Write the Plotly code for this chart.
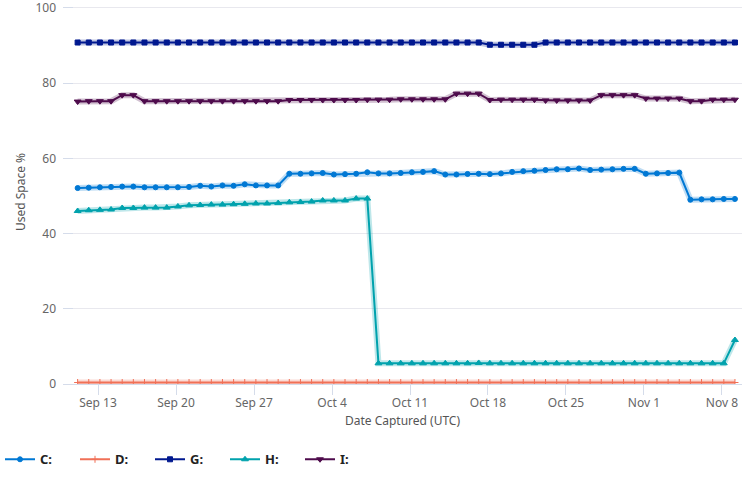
import plotly.graph_objects as go
import pandas as pd

dates = pd.date_range("2023-09-11 04:00", periods=60, freq="D")

C = [52.1, 52.2, 52.3, 52.4, 52.5, 52.5, 52.3, 52.3, 52.3, 52.3,
     52.4, 52.7, 52.5, 52.8, 52.7, 53.1, 52.8, 52.8, 52.8, 55.9,
     55.9, 56.0, 56.1, 55.7, 55.8, 55.9, 56.3, 56.0, 56.0, 56.1,
     56.3, 56.4, 56.6, 55.7, 55.7, 55.85, 55.9, 55.8, 56.0, 56.4,
     56.6, 56.7, 56.9, 57.1, 57.1, 57.3, 56.9, 57.0, 57.1, 57.2,
     57.2, 55.9, 56.0, 56.1, 56.2, 49.0, 49.1, 49.1, 49.2, 49.2]
D = [0.4] * 60
G = [90.8] * 37 + [90.2] * 5 + [90.8] * 18
H = [46.0, 46.2, 46.3, 46.4, 46.8, 46.8, 46.9, 46.9, 46.9, 47.2,
     47.5, 47.6, 47.7, 47.7, 47.8, 47.9, 48.0, 48.0, 48.1, 48.3,
     48.4, 48.5, 48.8, 48.8, 48.8, 49.3, 49.3, 5.5, 5.5, 5.5,
     5.5, 5.5, 5.5, 5.5, 5.5, 5.5, 5.6, 5.5, 5.5, 5.5,
     5.5, 5.5, 5.5, 5.5, 5.5, 5.5, 5.5, 5.5, 5.5, 5.5,
     5.5, 5.5, 5.5, 5.5, 5.5, 5.5, 5.5, 5.5, 5.5, 11.7]
I = [75.1, 75.2, 75.2, 75.2, 76.8, 76.8, 75.2, 75.2, 75.2, 75.2,
     75.2, 75.2, 75.2, 75.2, 75.2, 75.2, 75.2, 75.2, 75.2, 75.5,
     75.5, 75.5, 75.5, 75.5, 75.5, 75.5, 75.6, 75.6, 75.6, 75.7,
     75.7, 75.7, 75.7, 75.7, 77.2, 77.2, 77.2, 75.5, 75.6, 75.6,
     75.6, 75.6, 75.4, 75.4, 75.4, 75.4, 75.4, 76.8, 76.8, 76.8,
     76.8, 75.9, 75.9, 75.9, 75.9, 75.2, 75.2, 75.6, 75.6, 75.6]

y_ticks = [0, 20, 40, 60, 80, 100]

series = [
    ("C:", C, "#0078D4", "circle", 5),
    ("D:", D, "#F07057", "cross-thin", 5),
    ("G:", G, "#00188F", "square", 5),
    ("H:", H, "#00A2AD", "triangle-up", 6),
    ("I:", I, "#4E0B4C", "triangle-down", 6),
]

fig = go.Figure()
for name, vals, col, sym, sz in series:
    fig.add_trace(go.Scatter(
        x=dates, y=vals, mode="lines", line=dict(color=col, width=6),
        opacity=0.25, showlegend=False, hoverinfo="skip"))
for name, vals, col, sym, sz in series:
    fig.add_trace(go.Scatter(
        x=dates, y=vals, name=name, mode="lines+markers",
        line=dict(color=col, width=2),
        marker=dict(symbol=sym, size=sz, color=col, line=dict(color=col, width=1))))

font_family = "Segoe UI, Noto Sans, sans-serif"
fig.update_layout(
    width=751, height=482,
    margin=dict(l=63, r=9, t=0, b=98),
    plot_bgcolor="white", paper_bgcolor="white",
    font=dict(family=font_family, size=12, color="#666666"),
    xaxis=dict(
        title=dict(text="Date Captured (UTC)", font=dict(size=12, color="#555555"), standoff=6),
        range=["2023-09-09 20:30", "2023-11-09 19:10"],
        tick0="2023-09-13", dtick=7 * 24 * 3600 * 1000, tickformat="%b %-d",
        ticks="outside", ticklen=10, tickcolor="#D5DCEA",
        showline=True, linecolor="#D5DCEA", linewidth=1,
        showgrid=False, zeroline=False, ticklabelstandoff=-2,
    ),
    yaxis=dict(
        title=dict(text="Used Space %", font=dict(size=12, color="#555555"), standoff=7),
        range=[0, 102.1], tickvals=y_ticks,
        ticks="inside", ticklen=10, tickcolor="#D5DCEA",
        showgrid=True, gridcolor="#E8E8EE", gridwidth=1,
        zeroline=False, showline=False, ticklabelstandoff=6,
        ticklabeloverflow="allow",
    ),
    legend=dict(
        orientation="h", xref="container", yref="container",
        x=0.0, y=0.047, xanchor="left", yanchor="middle",
        font=dict(size=13, color="#222222", weight="bold"),
        entrywidth=30, entrywidthmode="pixels", itemwidth=30,
    ),
)

fig.write_html("out.html", config={"displayModeBar": False},
               post_script="document.body.style.margin='0';")
